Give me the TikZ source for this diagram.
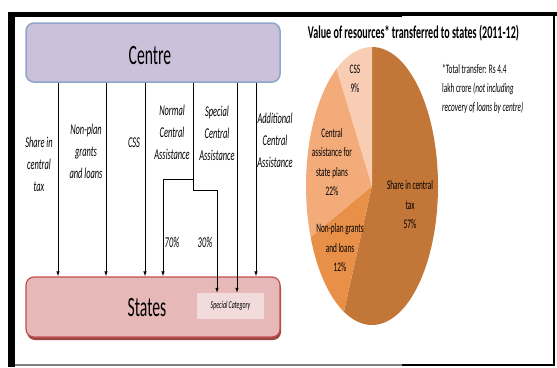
\documentclass[tikz,border=0pt]{standalone}
\usepackage{fontspec}
\setmainfont{Carlito}[FakeStretch=0.56]
\usetikzlibrary{arrows.meta}
\definecolor{centrefill}{HTML}{CCC1DA}
\definecolor{centredraw}{HTML}{8CA5C8}
\definecolor{statefill}{HTML}{E6B9B8}
\definecolor{statedraw}{HTML}{C0504D}
\definecolor{stateshadow}{HTML}{9E4543}
\definecolor{specfill}{HTML}{F2DCDB}
\definecolor{pieshare}{HTML}{C27638}
\definecolor{pienonplan}{HTML}{E88F48}
\definecolor{piecentral}{HTML}{F3AB79}
\definecolor{piecss}{HTML}{F8CDB3}
\begin{document}
\begin{tikzpicture}[x=1pt,y=-1pt,
  lbl/.style={font=\fontsize{15}{22}\selectfont\itshape, align=center, inner sep=0pt},
  pielbl/.style={font=\fontsize{13}{19.5}\selectfont, align=center, inner sep=0pt},
  bigtxt/.style={font=\fontsize{28}{30}\selectfont, inner sep=0pt},
  flow/.style={line width=0.8pt, -{Latex[length=5pt,width=3.5pt]}},
  plainline/.style={line width=0.8pt},
  boxc/.style={draw=centredraw, fill=centrefill, line width=1.5pt, rounded corners=8pt, inner sep=0pt},
  boxs/.style={draw=statedraw, fill=statefill, line width=1.2pt, rounded corners=8pt, inner sep=0pt}]
\useasboundingbox (0,0) rectangle (557,367);
% frame
\fill[black] (8,12) rectangle (15,367);
\fill[black] (8,12) rectangle (402,17);
\fill[black] (402,12) rectangle (557,16);
\fill[black] (553,12) rectangle (555,366);
\fill[gray] (15,364) rectangle (402,366);
\fill[black] (402,364) rectangle (555,366);
% boxes
\node[boxc, minimum width=254, minimum height=59] (centre) at (153,52.5) {};
\node[bigtxt] (centretxt) at (150,56) {Centre};
\fill[stateshadow, rounded corners=8pt] (27,280) rectangle (281,340);
\node[boxs, minimum width=254, minimum height=60] (states) at (153,307) {};
\node[bigtxt] (statestxt) at (147,308) {States};
\node[fill=specfill, minimum width=67, minimum height=26, inner sep=0pt,
      font=\fontsize{10.5}{12}\selectfont\itshape] (spec) at (230.5,306) {Special Category};
% coordinates for line positions
\coordinate (x1) at (58,0);
\coordinate (x2) at (106,0);
\coordinate (x3) at (145,0);
\coordinate (x4) at (163,0);
\coordinate (x5) at (193,0);
\coordinate (x6) at (217,0);
\coordinate (x7) at (237,0);
\coordinate (x8) at (256,0);
\coordinate (j1) at (193,179);
\coordinate (j2) at (193,190);
\draw[flow] (x1 |- centre.south) -- (x1 |- states.north);
\draw[flow] (x2 |- centre.south) -- (x2 |- states.north);
\draw[flow] (x3 |- centre.south) -- (x3 |- states.north);
\draw[plainline] (x5 |- centre.south) -- (j2);
\draw[flow] (j1) -| (x4 |- states.north);
\draw[flow] (j2) -| (x6 |- spec.north);
\draw[flow] (x7 |- centre.south) -- (x7 |- spec.north);
\draw[flow] (x8 |- centre.south) -- (x8 |- states.north);
% labels
\node[lbl] (l1) at (39,164) {Share in\\central\\tax};
\node[lbl] (l2) at (86,151) {Non-plan\\grants\\and loans};
\node[lbl] (l3) at (134,143) {CSS};
\node[lbl] (l4) at (172,132) {Normal\\Central\\Assistance};
\node[lbl] (l5) at (217,133) {Special\\Central\\Assistance};
\node[lbl] (l6) at (275,140) {Additional\\Central\\Assistance};
\node[lbl] (p70) at (172,242) {70\%};
\node[lbl] (p30) at (205,242) {30\%};
% title
\node[font=\fontsize{18}{20}\selectfont\bfseries, inner sep=0pt] (title) at (413.5,33) {Value of resources* transferred to states (2011-12)};
% pie
\begin{scope}[shift={(372,186)}]
\fill[pieshare] (0pt,0pt) -- (90:66pt and 139pt) arc[start angle=90, end angle=-115.2, x radius=66pt, y radius=139pt] -- cycle;
\fill[pienonplan] (0pt,0pt) -- (-115.2:66pt and 139pt) arc[start angle=-115.2, end angle=-158.4, x radius=66pt, y radius=139pt] -- cycle;
\fill[piecentral] (0pt,0pt) -- (-158.4:66pt and 139pt) arc[start angle=-158.4, end angle=-237.6, x radius=66pt, y radius=139pt] -- cycle;
\fill[piecss] (0pt,0pt) -- (122.4:66pt and 139pt) arc[start angle=122.4, end angle=90, x radius=66pt, y radius=139pt] -- cycle;
\end{scope}
\node[pielbl] (pcss) at (355,79) {CSS\\9\%};
\node[pielbl] (pcen) at (332,162) {Central\\assistance for\\state plans\\22\%};
\node[pielbl] (psh) at (410,205) {Share in central\\tax\\57\%};
\node[pielbl] (pnp) at (340,248) {Non-plan grants\\and loans\\12\%};
\node[font=\fontsize{13}{19}\selectfont, align=left, inner sep=0pt, anchor=west] (note) at (442,89)
  {*Total transfer: Rs 4.4\\lakh crore \textit{(not including}\\\textit{recovery of loans by centre)}};
\end{tikzpicture}
\end{document}
